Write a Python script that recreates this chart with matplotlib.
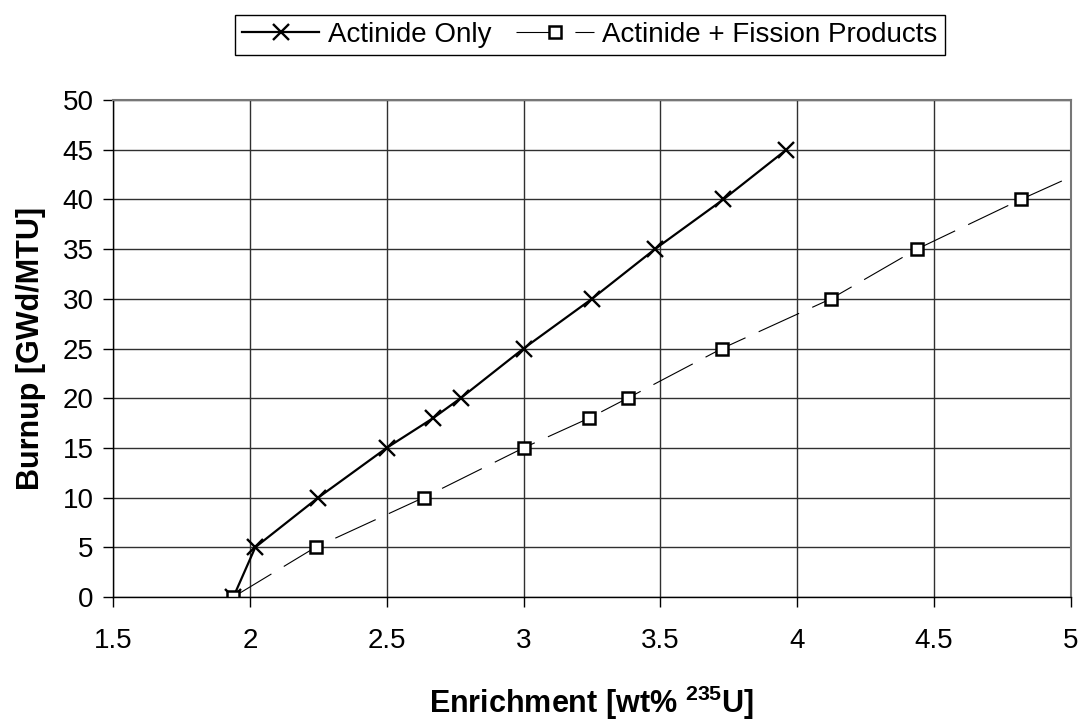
import matplotlib
matplotlib.use('Agg')
import matplotlib.pyplot as plt

plt.rcParams['font.family'] = ['Liberation Sans', 'DejaVu Sans']
plt.rcParams['mathtext.fontset'] = 'custom'
plt.rcParams['mathtext.rm'] = 'Liberation Sans'
plt.rcParams['mathtext.bf'] = 'Liberation Sans:bold'

# enrichment (wt% U-235) vs burnup (GWd/MTU)
act_enrich = [1.94, 2.02, 2.25, 2.50, 2.67, 2.77, 3.00, 3.25, 3.48, 3.73, 3.96]
act_burnup = [0, 5, 10, 15, 18, 20, 25, 30, 35, 40, 45]

fp_enrich = [1.94, 2.24, 2.635, 3.00, 3.24, 3.38, 3.725, 4.123, 4.437, 4.817, 5.22]
fp_burnup = [0, 5, 10, 15, 18, 20, 25, 30, 35, 40, 45]

fig = plt.figure(figsize=(10.84, 7.25), dpi=100)
ax = fig.add_axes([0.1042, 0.1766, 0.8838, 0.6854])

ax.plot(act_enrich, act_burnup, color='black', lw=1.6, marker='x',
        markersize=11, mew=1.7, label='Actinide Only')
ax.plot(fp_enrich, fp_burnup, color='black', lw=0.8, linestyle=(0, (40, 13)),
        marker='s', markersize=8, mfc='white', mec='black', mew=1.8,
        label='Actinide + Fission Products')

ax.set_xlim(1.5, 5)
ax.set_ylim(0, 50)
ax.set_xticks([1.5, 2, 2.5, 3, 3.5, 4, 4.5, 5])
ax.set_xticklabels(['1.5', '2', '2.5', '3', '3.5', '4', '4.5', '5'])
ax.set_yticks(range(0, 51, 5))
ax.grid(True, color='#303030', lw=1)
ax.set_axisbelow(True)

for s in ['top', 'right']:
    ax.spines[s].set_color('#777777')
    ax.spines[s].set_linewidth(1.5)
for s in ['left', 'bottom']:
    ax.spines[s].set_color('black')
    ax.spines[s].set_linewidth(1)

ax.tick_params(axis='x', direction='out', length=7, width=1, pad=15, labelsize=20)
ax.tick_params(axis='y', direction='out', length=7, width=1, pad=7, labelsize=20)

ax.set_xlabel(r'Enrichment [wt% $\mathbf{^{235}}$U]', fontsize=22, fontweight='bold', labelpad=22)
ax.set_ylabel('Burnup [GWd/MTU]', fontsize=22, fontweight='bold', labelpad=12)

fig.legend(loc='center', bbox_to_anchor=(0.544, 0.952), ncol=2, fontsize=20,
           frameon=True, fancybox=False, edgecolor='black', framealpha=1,
           handlelength=2.8, columnspacing=0.9, handletextpad=0.3,
           borderpad=0.25)

fig.savefig('out.png', dpi=100)
